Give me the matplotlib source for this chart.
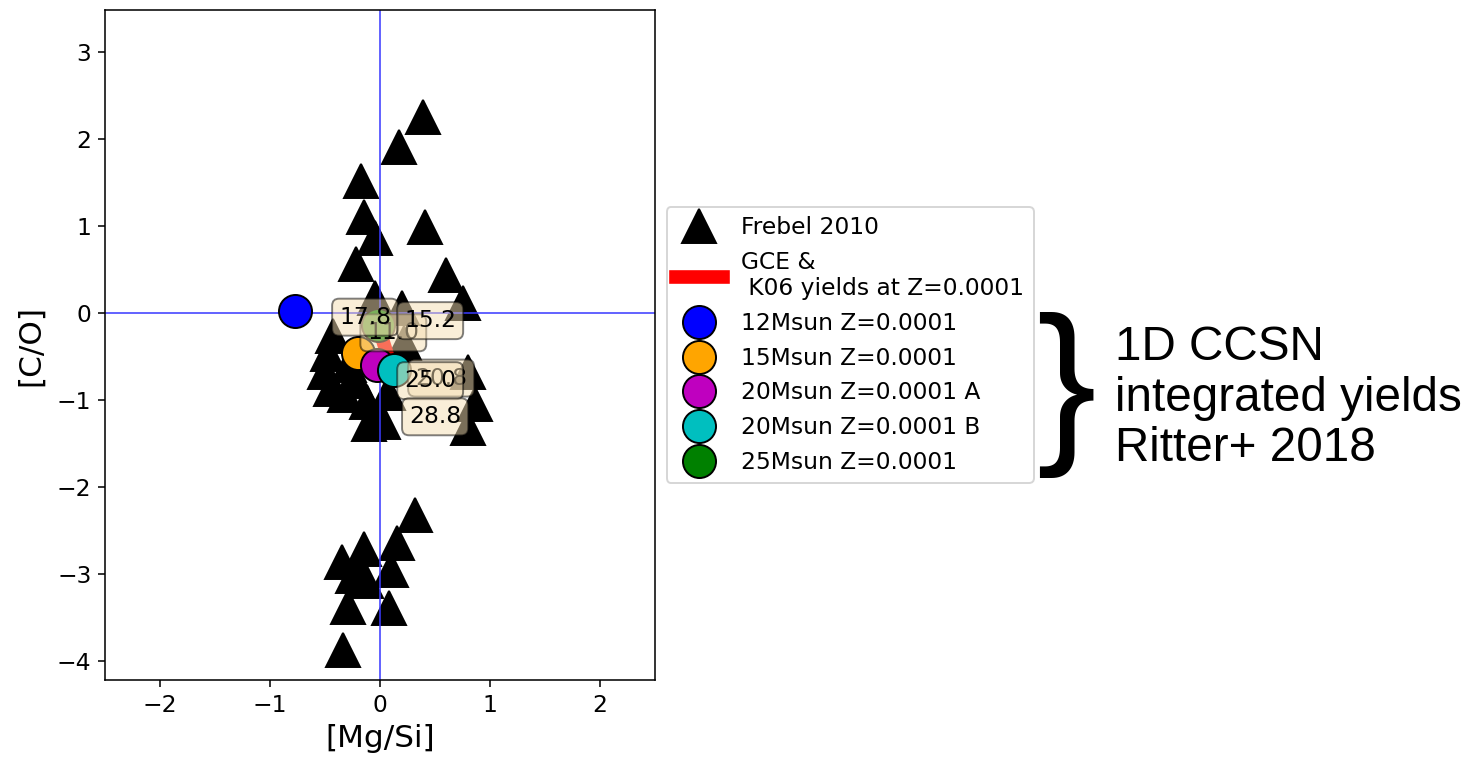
import numpy as np
import matplotlib
matplotlib.use('Agg')
import matplotlib.pyplot as plt

# Frebel 2010 stars, [Mg/Si] vs [C/O]
frebel_mgsi = [0.39, 0.17, -0.17, -0.15, -0.05, 0.41, -0.22, 0.60, 0.75, -0.05, 0.20,
               -0.43, -0.47, -0.50, -0.45, -0.32, -0.22, -0.28, -0.12, -0.05, -0.10, 0.03, 0.07, 0.22,
               0.80, 0.86, 0.80,
               0.32, 0.15, -0.15, -0.35, 0.10, -0.20, -0.13, -0.25, -0.29, 0.08, -0.34]
frebel_co = [2.25, 1.90, 1.52, 1.10, 0.86, 0.99, 0.56, 0.44, 0.11, 0.17, 0.05,
             -0.27, -0.47, -0.68, -0.88, -0.95, -0.78, -0.60, -1.03, -1.20, -1.28, -1.25, -0.92, -0.35,
             -0.68, -1.05, -1.32,
             -2.32, -2.65, -2.71, -2.86, -2.96, -2.93, -3.08, -3.03, -3.38, -3.39, -3.88]

# GCE track with K06 yields
gce_mgsi = [-0.02, 0.02, 0.05, 0.08]
gce_co = [-0.15, -0.30, -0.42, -0.55]

# 1D CCSN integrated yields (Ritter+ 2018)
ccsn_labels = ['12Msun Z=0.0001', '15Msun Z=0.0001', '20Msun Z=0.0001 A',
               '20Msun Z=0.0001 B', '25Msun Z=0.0001']
ccsn_colors = ['b', 'orange', 'm', 'c', 'g']
ccsn_mgsi = [-0.77, -0.20, -0.03, 0.13, -0.02]
ccsn_co = [0.02, -0.46, -0.60, -0.66, -0.14]

# mass labels along the GCE track
mass_text = ['11.0', '20.8', '17.8', '15.2', '25.0', '28.8']
mass_x = [0.12, 0.555, -0.136, 0.455, 0.455, 0.50]
mass_y = [-0.23, -0.75, -0.05, -0.09, -0.78, -1.195]

fig = plt.figure(figsize=(1467 / 140, 759 / 140), dpi=140)
ax = fig.add_axes([0.0716, 0.1041, 0.375, 0.8827])

ax.plot(frebel_mgsi, frebel_co, '^', color='k', ms=17, label='Frebel 2010', zorder=1)
ax.axhline(0, color='#3a3aff', lw=0.8, zorder=2)
ax.axvline(0, color='#3a3aff', lw=0.8, zorder=2)
ax.plot(gce_mgsi, gce_co, '-', color='r', lw=7, label='GCE &\n K06 yields at Z=0.0001', zorder=3)
for i in range(len(ccsn_labels)):
    ax.plot(ccsn_mgsi[i], ccsn_co[i], 'o', color=ccsn_colors[i], mec='k', ms=17,
            label=ccsn_labels[i], zorder=4)
for i in range(len(mass_text)):
    ax.text(mass_x[i], mass_y[i], mass_text[i], fontsize=12, ha='center', va='center', zorder=5,
            bbox=dict(boxstyle='round', facecolor='wheat', alpha=0.5))

ax.set_xlim(-2.5, 2.5)
ax.set_ylim(-4.22, 3.48)
ax.set_xticks([-2, -1, 0, 1, 2])
ax.tick_params(labelsize=12)
ax.set_xlabel('[Mg/Si]', fontsize=16)
ax.set_ylabel('[C/O]', fontsize=16, labelpad=6)

ax.legend(loc='center left', bbox_to_anchor=(1.0, 0.5), fontsize=12, numpoints=1,
          labelspacing=0.5)

fig.text(0.7263, 0.4796, '}', fontsize=92, family='Liberation Sans', ha='center', va='center')
fig.text(0.760, 0.4756, '1D CCSN\nintegrated yields\nRitter+ 2018', fontsize=24.5,
         family='Liberation Sans', ha='left', va='center', linespacing=1.17)

fig.savefig('out.png', dpi=140)
